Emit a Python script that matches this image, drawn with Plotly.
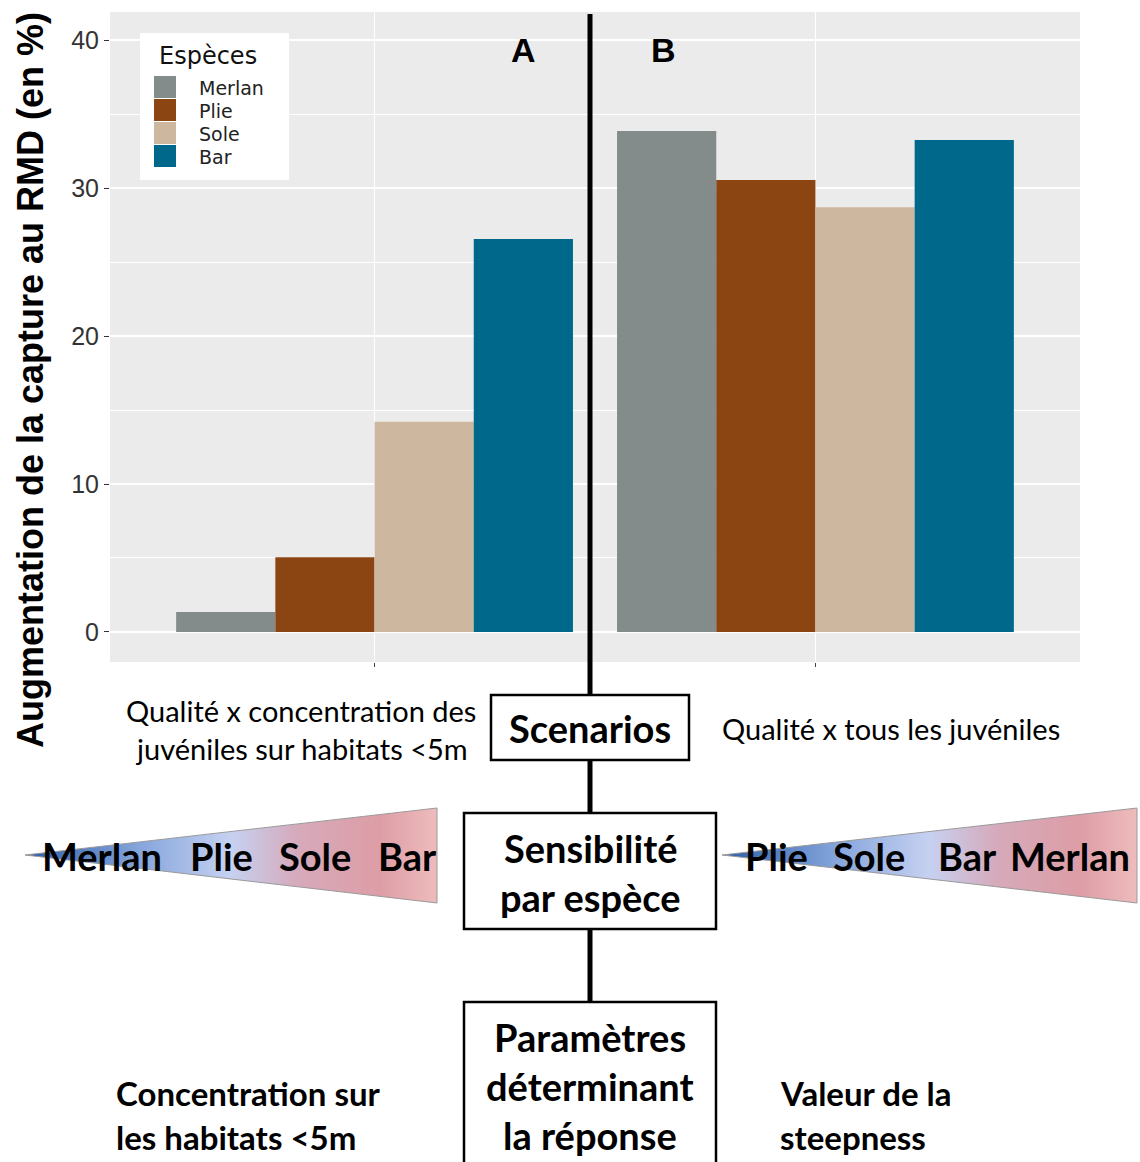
import plotly.graph_objects as go

W, H = 1140, 1162

# ---------------- data ----------------
species = ["Merlan", "Plie", "Sole", "Bar"]
colors = ["#838B8B", "#8B4513", "#CDB79E", "#00688B"]
scenarios = ["A", "B"]
values = {
    "Merlan": [1.35, 33.85],
    "Plie": [5.05, 30.55],
    "Sole": [14.2, 28.7],
    "Bar": [26.55, 33.25],
}
y_ticks = [0, 10, 20, 30, 40]
y_title = "Augmentation de la capture au RMD (en %)"

left_scenario = ["Qualité x concentration des", "juvéniles sur habitats <5m"]
right_scenario = ["Qualité x tous les juvéniles"]
order_left = ["Merlan", "Plie", "Sole", "Bar"]
order_right = ["Plie", "Sole", "Bar", "Merlan"]
param_left = ["Concentration sur", "les habitats <5m"]
param_right = ["Valeur de la", "steepness"]
box_scen = ["Scenarios"]
box_sens = ["Sensibilité", "par espèce"]
box_param = ["Paramètres", "déterminant", "la réponse"]


def X(px):
    return px / W


def Y(py):
    return 1 - py / H


fig = go.Figure()

for sp, c in zip(species, colors):
    fig.add_trace(go.Bar(x=scenarios, y=values[sp], name=sp, marker_color=c,
                         marker_line_width=0, xaxis="x", yaxis="y", showlegend=False))

# gradient triangles on a full-figure pixel overlay
grad = [[0, "#2d5ea8"], [0.28, "#86a6dc"], [0.5, "#c6d1f1"], [0.66, "#d6aabb"],
        [0.86, "#dd9da6"], [1, "#eebcbc"]]
for tip, right in [(25, 437), (722, 1137)]:
    fig.add_trace(go.Scatter(x=[tip, right, right, tip], y=[855, 808, 903, 855],
                             mode="lines", fill="toself",
                             fillgradient=dict(type="horizontal", colorscale=grad),
                             line=dict(color="#9a9a9a", width=1),
                             xaxis="x2", yaxis="y2", showlegend=False, hoverinfo="skip"))

shapes = []
# grey panel
shapes.append(dict(type="rect", xref="x domain", yref="y domain", x0=0, x1=1, y0=0, y1=1,
                   fillcolor="#EBEBEB", line_width=0, layer="below"))
# legend box
shapes.append(dict(type="rect", xref="paper", yref="paper", x0=X(140), x1=X(289), y0=Y(180), y1=Y(33),
                   fillcolor="white", line_width=0, layer="above"))
for i, c in enumerate(colors):
    top = 76 + 23 * i
    shapes.append(dict(type="rect", xref="paper", yref="paper", x0=X(154), x1=X(176),
                       y0=Y(top + 22), y1=Y(top), fillcolor=c, line_width=0, layer="above"))
# vertical spine
shapes.append(dict(type="line", xref="paper", yref="paper", x0=X(590), x1=X(590), y0=Y(14), y1=Y(1162),
                   line=dict(color="black", width=5), layer="above"))
# boxes
for (x0, y0, x1, y1) in [(491, 695, 689, 760), (464, 813, 716, 929), (464, 1002, 716, 1175)]:
    shapes.append(dict(type="rect", xref="paper", yref="paper", x0=X(x0), x1=X(x1), y0=Y(y1), y1=Y(y0),
                       fillcolor="white", line=dict(color="black", width=2.5), layer="above"))

ann = []


def text(t, x, y, size, bold=False, fam="Lato", xanchor="center", color="black", angle=0):
    ann.append(dict(text=f"<b>{t}</b>" if bold else t, x=X(x), y=Y(y), xref="paper", yref="paper",
                    xanchor=xanchor, yanchor="middle", showarrow=False, textangle=angle,
                    font=dict(family=fam, size=size, color=color)))


text(y_title, 30, 380, 36, bold=True, fam="Liberation Sans", angle=-90)
text("A", 523, 50, 34, bold=True, fam="Liberation Sans")
text("B", 663, 50, 34, bold=True, fam="Liberation Sans")
# legend
text("Espèces", 157, 56, 24, xanchor="left", color="#111", fam="DejaVu Sans")
for i, sp in enumerate(species):
    text(sp, 197, 88 + 23 * i, 19, xanchor="left", color="#222", fam="DejaVu Sans")
# scenario descriptions
for i, t in enumerate(left_scenario):
    text(t, 301, 710 + 38 * i, 29)
for t in right_scenario:
    text(t, 891, 728, 29)
# box texts
for t in box_scen:
    text(t, 590, 728, 38, bold=True)
for i, t in enumerate(box_sens):
    text(t, 590, 848 + 49 * i, 38, bold=True)
for i, t in enumerate(box_param):
    text(t, 590, 1037 + 49 * i, 38, bold=True)
# triangle words
for t, cx in zip(order_left, [102, 221, 315, 407]):
    text(t, cx, 856, 38, bold=True)
for t, cx in zip(order_right, [776, 869, 967, 1070]):
    text(t, cx, 856, 38, bold=True)
# parameters
for i, t in enumerate(param_left):
    text(t, 114, 1093 + 44 * i, 33, bold=True, xanchor="left")
for i, t in enumerate(param_right):
    text(t, 778, 1093 + 44 * i, 33, bold=True, xanchor="left")

fig.update_layout(
    width=W, height=H, margin=dict(l=0, r=0, t=0, b=0),
    paper_bgcolor="white", plot_bgcolor="rgba(0,0,0,0)",
    barmode="group", bargap=0.1, bargroupgap=0,
    shapes=shapes, annotations=ann, showlegend=False,
    xaxis=dict(domain=[X(110), X(1080)], range=[-0.6, 1.6], showticklabels=False,
               ticks="outside", ticklen=4, tickcolor="#444", showgrid=True, gridcolor="white",
               gridwidth=1.3, zeroline=False, showline=False, anchor="y", fixedrange=True),
    yaxis=dict(domain=[Y(662), Y(12)], range=[-2.03, 41.9], tickvals=y_ticks,
               ticks="outside", ticklen=5, tickcolor="#333",
               tickfont=dict(family="Liberation Sans", size=25, color="#333"),
               showgrid=True, gridcolor="white", gridwidth=1.6, zeroline=False,
               minor=dict(dtick=5, tick0=0, showgrid=True, gridcolor="white", gridwidth=0.7, ticks=""),
               anchor="x", fixedrange=True),
    xaxis2=dict(domain=[0, 1], range=[0, W], visible=False, anchor="y2", fixedrange=True),
    yaxis2=dict(domain=[0, 1], range=[H, 0], visible=False, anchor="x2", fixedrange=True),
)

fig.write_html("out.html", config={"displayModeBar": False},
               post_script="document.body.style.margin='0';document.body.style.overflow='hidden';")
